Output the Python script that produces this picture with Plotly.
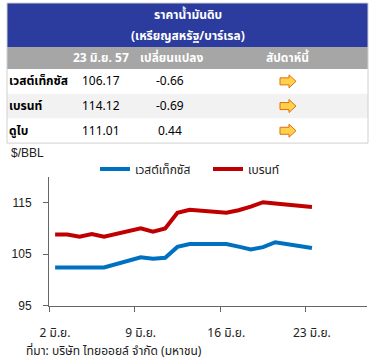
import plotly.graph_objects as go

# ---------------- data ----------------
dates = ["2014-06-02", "2014-06-03", "2014-06-04", "2014-06-05", "2014-06-06",
         "2014-06-09", "2014-06-10", "2014-06-11", "2014-06-12", "2014-06-13",
         "2014-06-16", "2014-06-17", "2014-06-18", "2014-06-19", "2014-06-20",
         "2014-06-23"]
wti = [102.4, 102.4, 102.4, 102.4, 102.4, 104.4, 104.1, 104.3, 106.4, 106.95,
       106.95, 106.45, 105.9, 106.35, 107.3, 106.17]
brent = [108.8, 108.8, 108.35, 108.9, 108.35, 110.0, 109.35, 109.95, 113.0, 113.6,
         113.0, 113.5, 114.2, 115.05, 114.8, 114.12]
series_names = ["เวสต์เท็กซัส", "เบรนท์"]

table_title = ["ราคาน้ำมันดิบ", "(เหรียญสหรัฐ/บาร์เรล)"]
table_header = ["23 มิ.ย. 57", "เปลี่ยนแปลง", "สัปดาห์นี้"]
crude_names = ["เวสต์เท็กซัส", "เบรนท์", "ดูไบ"]
crude_prices = ["106.17", "114.12", "111.01"]
crude_changes = ["-0.66", "-0.69", "0.44"]

x_tick_pos = ["2014-06-01 12:00", "2014-06-08 12:00", "2014-06-15 12:00", "2014-06-22 12:00"]
x_tick_text = ["2 มิ.ย.", "9 มิ.ย.", "16 มิ.ย.", "23 มิ.ย."]
y_ticks = [95, 105, 115]
source_text = "ที่มา: บริษัท ไทยออยล์ จำกัด (มหาชน)"

# ---------------- layout helpers ----------------
W, H = 379, 359
FONT = "Tahoma, 'Noto Sans Thai', 'Noto Sans', 'DejaVu Sans', 'Liberation Sans', sans-serif"
LFONT = "'Liberation Sans', Arial, sans-serif"


def px(x):
    return x / W


def py(y):
    return 1 - y / H


fig = go.Figure()

colors = ["#0070C0", "#C00000"]
for name, vals, c in zip(series_names, [wti, brent], colors):
    fig.add_trace(go.Scatter(x=dates, y=vals, mode="lines", name=name,
                             line=dict(color=c, width=4)))

shapes = []
annotations = []


def rect(x0, x1, y0, y1, fill, line=None):
    shapes.append(dict(type="rect", xref="paper", yref="paper", x0=px(x0), x1=px(x1),
                       y0=py(y1), y1=py(y0), fillcolor=fill,
                       line=line if line else dict(width=0), layer="below"))


def text(t, x, y, anchor="center", color="#222", size=12, family=FONT):
    annotations.append(dict(text=t, xref="paper", yref="paper", x=px(x), y=py(y),
                            showarrow=False, xanchor=anchor, yanchor="middle",
                            font=dict(color=color, size=size, family=family)))


TX0, TX1 = 7, 368
# title band
rect(TX0, TX1, 3, 47, "#2B3B9E")
for i, t in enumerate(table_title):
    text("<b>%s</b>" % t, 188, 15 + 21 * i, color="white")
# header band
rect(TX0, TX1, 47, 69, "#A6A6A6")
col_centers = [101, 171, 288]
for t, cx in zip(table_header, col_centers):
    text("<b>%s</b>" % t, cx, 58, color="white")
# rows
row_fill = ["#FFFFFF", "#F2F2F2", "#FFFFFF"]
row_top = 69
row_h = 24.7
for i, (n, p, c) in enumerate(zip(crude_names, crude_prices, crude_changes)):
    y0 = row_top + row_h * i
    rect(TX0, TX1, y0, y0 + row_h, row_fill[i])
    cy = y0 + row_h / 2
    text("<b>%s</b>" % n, 7, cy, anchor="left", color="black")
    text(p, col_centers[0], cy, color="black")
    text(c, col_centers[1] - 1, cy, color="black")
    # arrow in "this week" column
    ax = col_centers[2]
    pts = [(-8, -3.5), (1, -3.5), (1, -6.5), (8, 0), (1, 6.5), (1, 3.5), (-8, 3.5)]
    path = "M " + " L ".join("%.4f,%.4f" % (px(ax + a), py(cy + b)) for a, b in pts) + " Z"
    shapes.append(dict(type="path", xref="paper", yref="paper", path=path,
                       fillcolor="#FFD24D", line=dict(color="#E46C0A", width=1), layer="above"))
# outer border
shapes.append(dict(type="rect", xref="paper", yref="paper", x0=px(TX0), x1=px(TX1),
                   y0=py(row_top + 3 * row_h), y1=py(3),
                   line=dict(color="#D0D0D0", width=1), layer="above"))

text("$/BBL", 9, 153, anchor="left", family=LFONT)
text(source_text, 24, 351, anchor="left")

fig.update_layout(
    width=W, height=H,
    margin=dict(l=0, r=0, t=0, b=0, autoexpand=False),
    paper_bgcolor="white", plot_bgcolor="white",
    showlegend=True,
    legend=dict(orientation="h", x=px(95), y=py(169), xanchor="left", yanchor="middle",
                font=dict(size=12, color="#222", family=FONT), entrywidth=68,
                bgcolor="rgba(0,0,0,0)"),
    xaxis=dict(domain=[px(49), px(367)], type="date", automargin=False,
               range=["2014-06-01 12:00", "2014-06-27 12:00"],
               tickvals=x_tick_pos, ticktext=x_tick_text, ticks="outside", ticklen=5,
               tickcolor="#666", showline=True, linecolor="#666", linewidth=1,
               showgrid=False, zeroline=False, ticklabelshift=6, ticklabelstandoff=11,
               tickfont=dict(size=12, color="#222", family=FONT)),
    yaxis=dict(domain=[1 - 305.7 / H, 1 - 176.7 / H], range=[95, 120], automargin=False,
               tickvals=y_ticks, ticks="outside", ticklen=5, tickcolor="#666",
               showline=True, linecolor="#666", linewidth=1, showgrid=False,
               zeroline=False, ticklabelstandoff=9,
               tickfont=dict(size=12, color="#222", family=LFONT)),
    shapes=shapes, annotations=annotations,
)

fig.write_html("out.html", config={"displayModeBar": False},
               post_script="document.body.style.margin='0';document.body.style.padding='0';")
